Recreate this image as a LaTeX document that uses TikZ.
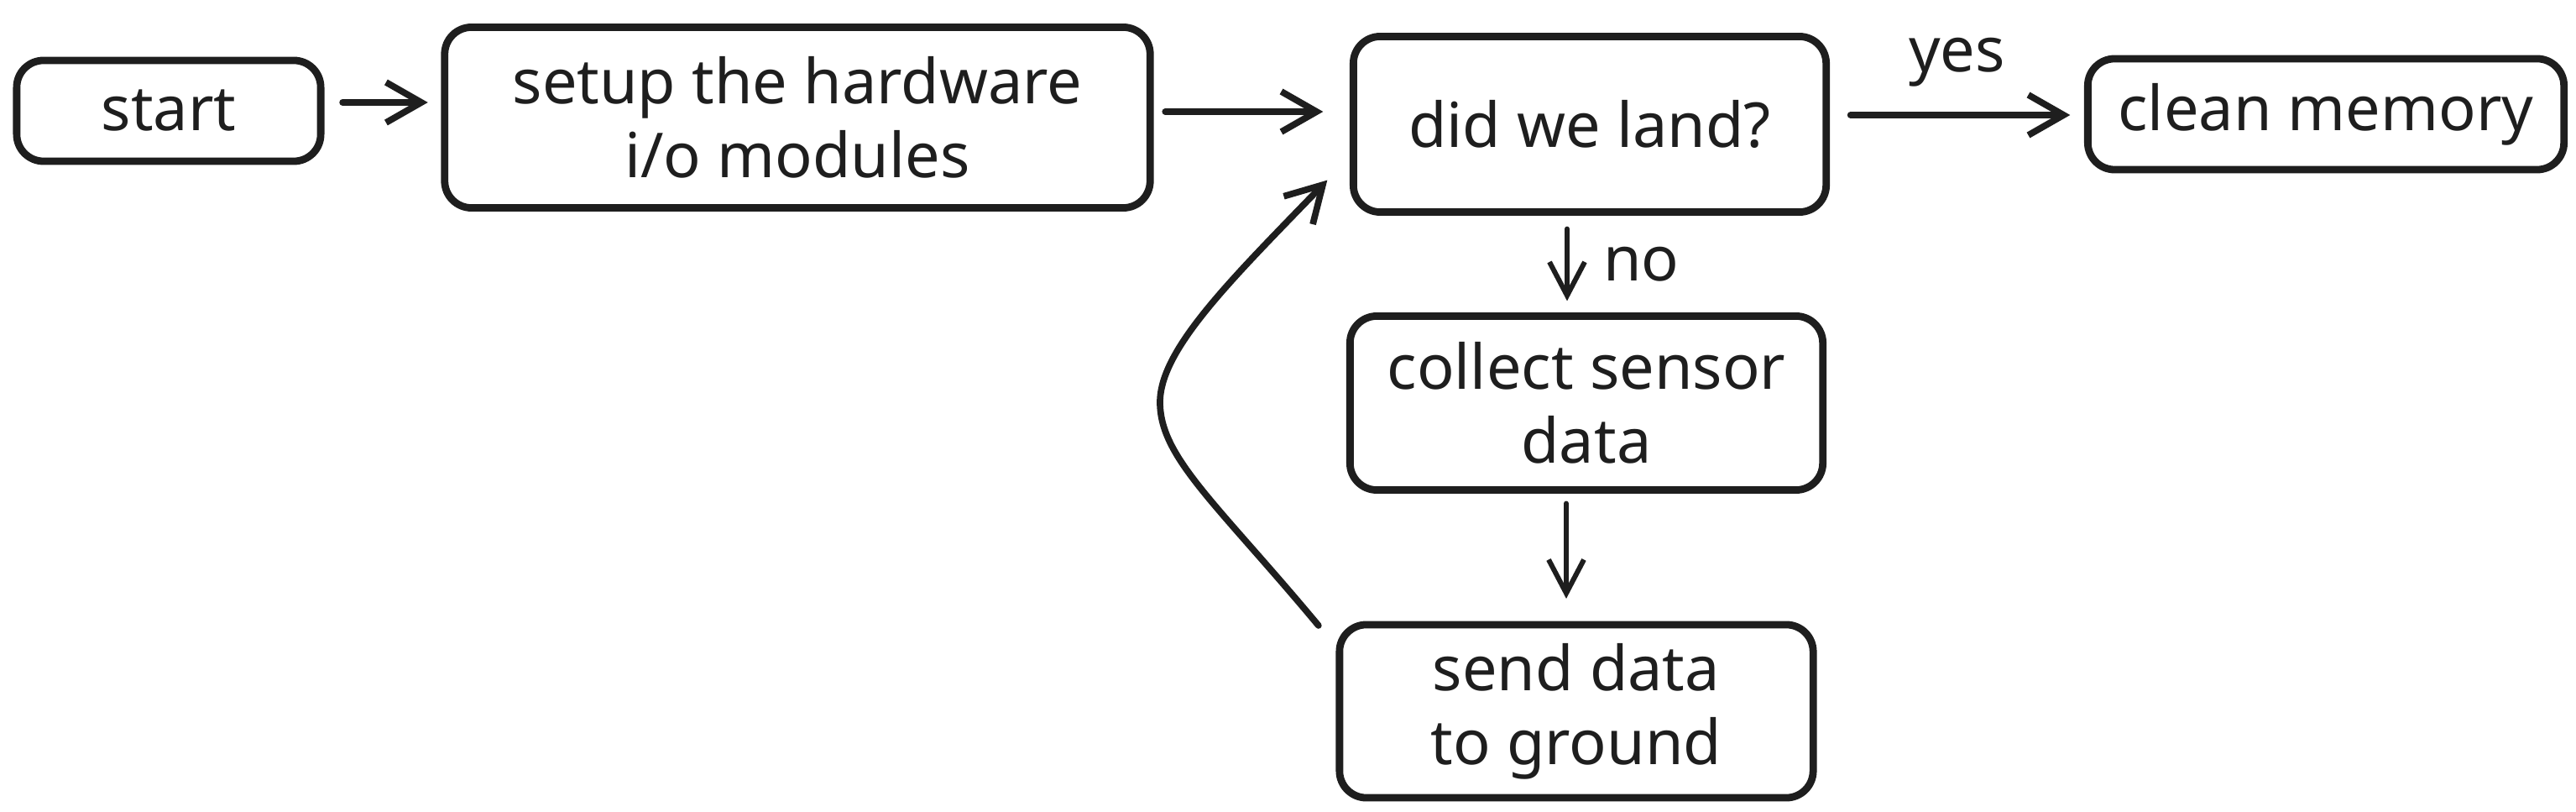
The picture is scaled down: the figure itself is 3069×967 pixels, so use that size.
\documentclass[tikz,border=0pt]{standalone}
\usepackage{fontspec}
\setmainfont{Noto Sans}
\usetikzlibrary{arrows.meta,calc}
\definecolor{ink}{HTML}{1E1E1E}
\begin{document}
\begin{tikzpicture}[x=0.01cm,y=0.01cm,
  box/.style={draw=ink, line width=2.5pt, rounded corners=0.32cm, inner sep=0pt, outer sep=0pt,
    align=center, text=ink, font=\fontsize{21pt}{25pt}\selectfont},
  lbl/.style={text=ink, font=\fontsize{21pt}{25pt}\selectfont, inner sep=0pt},
  arr/.style={draw=ink, line width=2.2pt, line cap=round, -{Straight Barb[length=0.42cm,width=0.48cm,line width=2.2pt]}},
  thinarr/.style={draw=ink, line width=1.7pt, line cap=round, -{Straight Barb[length=0.4cm,width=0.42cm,line width=1.7pt]}}]
\useasboundingbox (0,0) rectangle (3069,-967);
\node[box, minimum width=3.62cm, minimum height=1.2cm] (start) at (201,-132) {start};
\node[box, minimum width=8.4cm, minimum height=2.15cm] (setup) at (950,-140) {setup the hardware\\i/o modules};
\node[box, minimum width=5.63cm, minimum height=2.09cm] (did) at (1894,-148) {did we land?};
\node[box, minimum width=5.67cm, minimum height=1.32cm] (clean) at (2771,-136) {clean memory};
\node[box, minimum width=5.63cm, minimum height=2.07cm] (collect) at (1890,-480) {collect sensor\\data};
\node[box, minimum width=5.64cm, minimum height=2.06cm] (send) at (1878,-847) {send data\\to ground};

\draw[arr, shorten <=0.26cm, shorten >=0.2cm] (start.east |- 0,-122) -- (setup.west |- 0,-122);
\draw[arr, shorten <=0.18cm, shorten >=0.36cm] (setup.east |- 0,-133) -- (did.west |- 0,-133);
\draw[arr, shorten <=0.29cm, shorten >=0.21cm] (did.east |- 0,-137) -- (clean.west |- 0,-137)
  node[lbl, midway, above=0.3cm] (yes) {yes};
\draw[thinarr, shorten <=0.2cm, shorten >=0.18cm] (did.south -| 1867,0) -- (collect.north -| 1867,0)
  node[lbl, midway, right=0.4cm] (no) {no};
\draw[thinarr, shorten <=0.16cm, shorten >=0.31cm] (collect.south -| 1866,0) -- (send.north -| 1866,0);
\draw[arr] ($(send.north west)+(-25,-1)$) .. controls (1450,-600) and (1382,-545) .. (1382,-479)
  .. controls (1382,-415) and (1470,-330) .. ($(did.south west)+(-31,38)$);
\end{tikzpicture}
\end{document}
